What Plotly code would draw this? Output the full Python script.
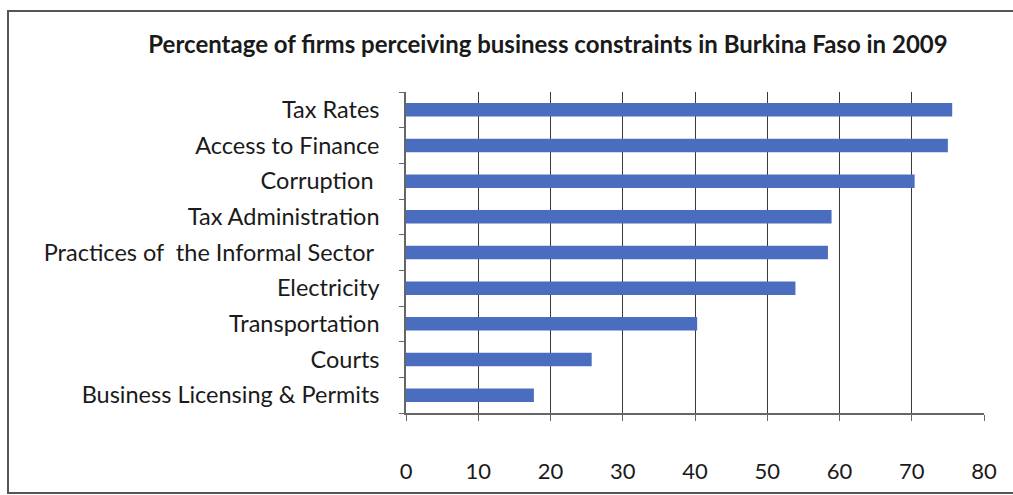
import plotly.graph_objects as go

# Business constraints, listed top to bottom
constraints = [
    "Tax Rates",
    "Access to Finance",
    "Corruption ",
    "Tax Administration",
    "Practices of  the Informal Sector ",
    "Electricity",
    "Transportation",
    "Courts",
    "Business Licensing & Permits",
]
percent_firms = [75.6, 75.0, 70.4, 58.9, 58.4, 53.9, 40.3, 25.7, 17.7]

x_ticks = [0, 10, 20, 30, 40, 50, 60, 70, 80]

W, H = 1013, 495
L, R, T, B = 406, 29, 92, 82
pw, ph = W - L - R, H - T - B

def px_to_paper_x(px):
    return (px - L) / pw

def px_to_paper_y(py):
    return (H - B - py) / ph

FONT = "Lato"
AXIS_COLOR = "#666666"
TEXT_COLOR = "#1a1a1a"

fig = go.Figure(
    go.Bar(
        x=percent_firms,
        y=constraints,
        orientation="h",
        marker=dict(color="#4A6DBF", line=dict(width=0)),
        width=0.38,
    )
)

fig.update_layout(
    width=W,
    height=H,
    margin=dict(l=L, r=R, t=T, b=B),
    paper_bgcolor="white",
    plot_bgcolor="white",
    showlegend=False,
    font=dict(family=FONT, size=23, color=TEXT_COLOR),
    title=dict(
        text="<b>Percentage of firms perceiving business constraints in Burkina Faso in 2009</b>",
        x=px_to_paper_x(548),
        xref="paper",
        xanchor="center",
        y=1 - 45 / H,
        yanchor="middle",
        font=dict(family=FONT, size=24, color=TEXT_COLOR),
    ),
    shapes=[
        dict(
            type="rect",
            xref="paper",
            yref="paper",
            x0=px_to_paper_x(8),
            x1=px_to_paper_x(1030),
            y0=px_to_paper_y(493),
            y1=px_to_paper_y(11),
            line=dict(color="#555555", width=2),
            fillcolor="rgba(0,0,0,0)",
            layer="below",
        )
    ],
)

fig.update_xaxes(
    range=[0, 80],
    tickvals=x_ticks,
    ticktext=[str(v) for v in x_ticks],
    showgrid=True,
    gridcolor="#3a3a3a",
    gridwidth=1,
    showline=True,
    linecolor=AXIS_COLOR,
    linewidth=1.5,
    ticks="outside",
    ticklen=6,
    tickcolor=AXIS_COLOR,
    ticklabelstandoff=32,
    zeroline=False,
    tickfont=dict(family=FONT, size=22, color=TEXT_COLOR),
    fixedrange=True,
)

fig.update_yaxes(
    categoryorder="array",
    categoryarray=constraints[::-1],
    showgrid=False,
    showline=True,
    linecolor=AXIS_COLOR,
    linewidth=1.5,
    ticks="outside",
    tickson="boundaries",
    ticklen=5,
    tickcolor=AXIS_COLOR,
    ticklabelstandoff=20,
    tickfont=dict(family=FONT, size=23.5, color=TEXT_COLOR),
    fixedrange=True,
)

fig.write_html("out.html")
